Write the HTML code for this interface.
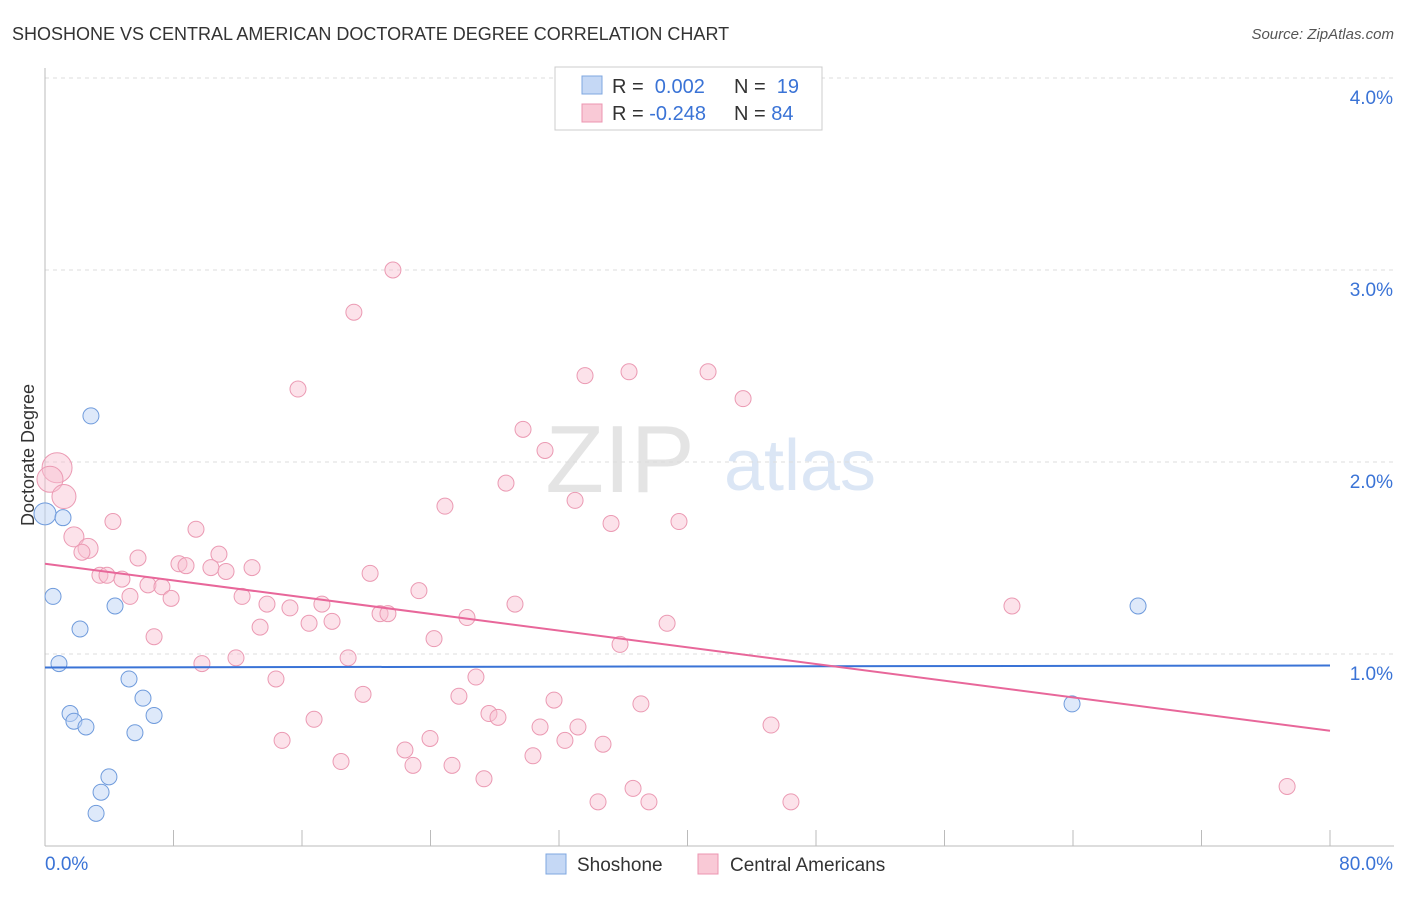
<!DOCTYPE html>
<html><head><meta charset="utf-8"><style>
body{margin:0;background:#fff;font-family:"Liberation Sans",sans-serif;}
svg text{font-family:"Liberation Sans",sans-serif;}
</style></head><body>
<svg id="chart" width="1406" height="892">
<text x="12" y="40" font-size="18" fill="#333">SHOSHONE VS CENTRAL AMERICAN DOCTORATE DEGREE CORRELATION CHART</text>
<text x="1394" y="39" font-size="15" fill="#555" font-style="italic" text-anchor="end">Source: ZipAtlas.com</text>
<text x="34" y="455" font-size="18" fill="#333" transform="rotate(-90 34 455)" text-anchor="middle">Doctorate Degree</text>
<text x="620" y="492" font-size="96" fill="#e4e4e4" font-family="Liberation Serif" text-anchor="middle">ZIP</text>
<text x="800" y="490" font-size="72" fill="#dbe6f5" text-anchor="middle">atlas</text>
<g id="grid"></g><g id="marks"></g>
<g>
<rect x="555" y="67" width="267" height="63" fill="#fff" stroke="#ccc"/>
<rect x="582" y="76" width="20" height="18" fill="#c5d8f5" stroke="#7fa7e0"/>
<rect x="582" y="104" width="20" height="18" fill="#f9c9d6" stroke="#ec95b0"/>
<text x="612" y="93" font-size="20" fill="#333">R = <tspan fill="#3a73d6">&#160;0.002</tspan></text>
<text x="734" y="93" font-size="20" fill="#333">N = <tspan fill="#3a73d6">&#160;19</tspan></text>
<text x="612" y="120" font-size="20" fill="#333">R = <tspan fill="#3a73d6">-0.248</tspan></text>
<text x="734" y="120" font-size="20" fill="#333">N = <tspan fill="#3a73d6">84</tspan></text>
</g>
<g>
<rect x="546" y="854" width="20" height="20" fill="#c5d8f5" stroke="#7fa7e0"/>
<text x="577" y="871" font-size="19" fill="#333">Shoshone</text>
<rect x="698" y="854" width="20" height="20" fill="#f9c9d6" stroke="#ec95b0"/>
<text x="730" y="871" font-size="19" fill="#333">Central Americans</text>
</g>
</svg>
<script>
const yTicks=[1,2,3,4];
const xTickLabels=["0.0%","80.0%"];
const blueX=[0,1.12,2.86,0.5,4.36,2.18,0.87,5.23,6.1,1.56,1.8,2.55,6.79,5.6,3.98,3.49,3.18,68.05,63.94];
const blueY=[1.73,1.71,2.24,1.3,1.25,1.13,0.95,0.87,0.77,0.69,0.65,0.62,0.68,0.59,0.36,0.28,0.17,1.25,0.74];
const pinkX=[0.75,0.31,1.18,1.8,2.68,2.3,4.23,9.4,5.79,10.83,8.34,8.78,10.33,11.27,12.89,3.42,3.86,4.79,6.41,7.28,5.29,7.85,12.27,13.82,15.25,17.24,13.39,16.44,17.87,6.79,9.77,11.89,18.87,14.38,20.24,23.28,20.86,21.35,26.27,24.22,29.26,35.8,38.73,21.66,19.23,15.75,33.62,36.36,41.28,43.46,29.76,31.13,28.7,33.0,24.9,35.24,39.47,60.2,19.8,16.75,14.76,18.43,22.41,22.91,23.97,25.34,26.83,25.77,27.64,28.2,27.33,30.82,31.69,33.18,32.37,30.38,34.74,37.1,36.61,34.43,37.6,45.2,46.44,77.33];
const pinkY=[1.97,1.91,1.82,1.61,1.55,1.53,1.69,1.65,1.5,1.52,1.47,1.46,1.45,1.43,1.45,1.41,1.41,1.39,1.36,1.35,1.3,1.29,1.3,1.26,1.24,1.26,1.14,1.16,1.17,1.09,0.95,0.98,0.98,0.87,1.42,1.33,1.21,1.21,1.19,1.08,1.26,1.05,1.16,3.0,2.78,2.38,2.45,2.47,2.47,2.33,2.17,2.06,1.89,1.8,1.77,1.68,1.69,1.25,0.79,0.66,0.55,0.44,0.5,0.42,0.56,0.42,0.88,0.78,0.69,0.67,0.35,0.62,0.76,0.62,0.55,0.47,0.53,0.74,0.3,0.23,0.23,0.63,0.23,0.31];
const pinkR=[];pinkR[0]=15;pinkR[1]=13;pinkR[2]=12;pinkR[3]=10;pinkR[4]=10;
const trendBlue=[0.93,0.94];
const trendPink=[1.47,0.6];
const ns="http://www.w3.org/2000/svg";
const X0=45,X1=1330;
const xs=v=>X0+v/80*(X1-X0);
const ys=v=>846-v*192;
const grid=document.getElementById('grid'),marks=document.getElementById('marks');
function mk(tag,a,p){const e=document.createElementNS(ns,tag);for(const k in a)e.setAttribute(k,a[k]);p.appendChild(e);return e;}
yTicks.forEach(t=>{
const l=mk('line',{x1:X0,x2:1394,y1:ys(t),y2:ys(t),stroke:'#ddd','stroke-dasharray':'4,4'},grid);


const tx=mk('text',{x:1393,y:ys(t)+26,'font-size':19,fill:'#3a73d6','text-anchor':'end'},grid);tx.textContent=t.toFixed(1)+'%';


});
const ax=mk('line',{x1:X0,x2:1394,y1:846,y2:846,stroke:'#bbb'},grid);


const ay=mk('line',{x1:X0,x2:X0,y1:68,y2:846,stroke:'#bbb'},grid);


for(let i=0;i<=10;i++){const t=mk('line',{x1:xs(i*8),x2:xs(i*8),y1:830,y2:846,stroke:'#bbb'},grid);

}
const l0=mk('text',{x:45,y:870,'font-size':19,fill:'#3a73d6'},grid);l0.textContent=xTickLabels[0];


const l1=mk('text',{x:1393,y:870,'font-size':19,fill:'#3a73d6','text-anchor':'end'},grid);l1.textContent=xTickLabels[1];


pinkX.forEach((x,i)=>{const c=mk('circle',{cx:xs(x),cy:ys(pinkY[i]),r:pinkR[i]||8,fill:'rgba(249,190,208,0.45)',stroke:'#eb9ab3','stroke-width':1},marks);

});
blueX.forEach((x,i)=>{const c=mk('circle',{cx:xs(x),cy:ys(blueY[i]),r:i==0?11:8,fill:'rgba(190,212,245,0.5)',stroke:'#6f9bdc','stroke-width':1},marks);

});
const tb=mk('line',{x1:xs(0),x2:xs(80),y1:ys(trendBlue[0]),y2:ys(trendBlue[1]),stroke:'#3a73d6','stroke-width':2},marks);


const tp=mk('line',{x1:xs(0),x2:xs(80),y1:ys(trendPink[0]),y2:ys(trendPink[1]),stroke:'#e8679a','stroke-width':2},marks);


</script>
</body></html>
